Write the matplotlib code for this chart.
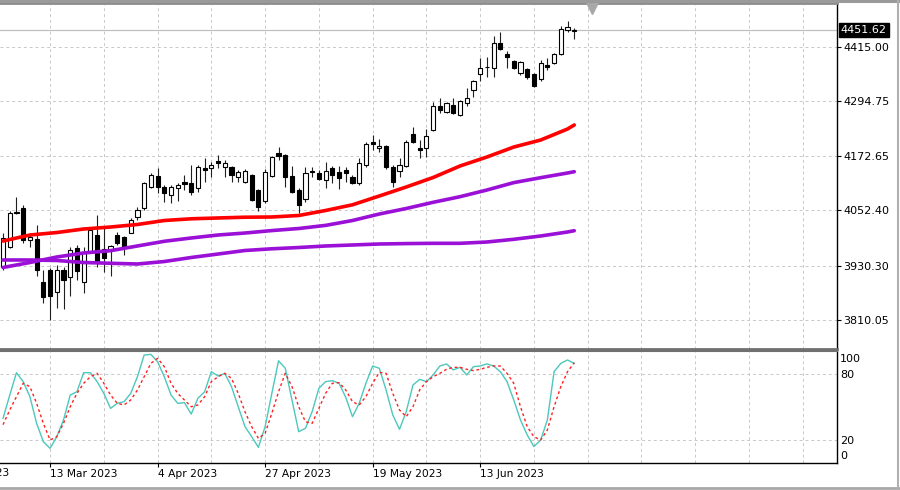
import matplotlib
matplotlib.use("Agg")
import matplotlib.pyplot as plt
import numpy as np
from matplotlib.transforms import blended_transform_factory
from matplotlib.lines import Line2D

# ---------------- data ----------------
opens = [3927.3, 3971.5, 4049.0, 4057.9, 3987.0, 3989.3, 3894.1, 3920.6, 3871.9, 3920.6,
         3905.1, 3969.3, 3894.1, 3960.5, 3998.1, 3967.1, 3964.9, 3998.1, 3993.7, 4002.5,
         4038.0, 4057.9, 4104.4, 4128.7, 4104.4, 4086.7, 4102.2, 4115.5, 4113.2, 4102.2,
         4146.5, 4146.5, 4162.0, 4148.7, 4148.7, 4126.5, 4115.5, 4131.0, 4097.7, 4073.4,
         4128.7, 4179.7, 4175.2, 4128.7, 4097.7, 4077.8, 4139.8, 4135.4, 4119.9, 4146.5,
         4137.6, 4142.0, 4126.5, 4113.2, 4153.1, 4204.0, 4190.7, 4195.2, 4148.7, 4139.8,
         4150.9, 4221.7, 4190.7, 4190.7, 4230.6, 4283.7, 4270.4, 4285.9, 4263.8, 4290.4,
         4319.1, 4354.6, 4371.2, 4367.8, 4423.2, 4398.8, 4383.4, 4356.8, 4365.6, 4354.6,
         4343.5, 4374.5, 4378.9, 4398.8, 4452.0, 4448.7]
highs = [4002.5, 4051.3, 4082.2, 4064.5, 4002.5, 4020.3, 3920.6, 3925.0, 3931.7, 3927.3,
         3971.5, 3976.0, 3971.5, 4015.8, 4042.4, 4015.8, 3975.5, 4004.8, 3995.0, 4035.8,
         4060.1, 4114.5, 4135.4, 4146.5, 4108.8, 4108.8, 4113.2, 4131.0, 4153.1, 4153.1,
         4168.6, 4159.7, 4175.2, 4164.2, 4150.9, 4142.0, 4144.2, 4132.5, 4099.0, 4144.2,
         4172.0, 4192.9, 4176.5, 4150.9, 4102.2, 4148.7, 4148.7, 4142.0, 4159.7, 4150.9,
         4150.9, 4148.7, 4131.0, 4168.6, 4204.0, 4219.5, 4210.7, 4197.4, 4153.1, 4168.6,
         4208.4, 4237.2, 4208.4, 4232.8, 4292.6, 4301.4, 4292.6, 4301.4, 4297.0, 4323.6,
         4341.3, 4390.0, 4392.2, 4438.7, 4447.6, 4405.5, 4385.6, 4383.4, 4367.8, 4356.8,
         4385.6, 4390.0, 4401.1, 4460.8, 4471.9, 4456.4]
lows = [3920.6, 3969.3, 4044.6, 3980.4, 3971.5, 3907.3, 3847.6, 3809.9, 3836.5, 3834.3,
        3863.1, 3898.5, 3869.7, 3958.3, 3927.3, 3916.2, 3907.3, 3976.0, 3953.8, 4001.5,
        4031.3, 4053.5, 4102.2, 4091.1, 4071.2, 4069.0, 4073.4, 4097.7, 4086.7, 4093.3,
        4115.5, 4126.5, 4146.5, 4126.5, 4115.5, 4115.5, 4113.2, 4073.4, 4051.3, 4069.0,
        4126.5, 4164.2, 4104.4, 4091.1, 4046.8, 4071.2, 4126.5, 4119.9, 4102.2, 4113.2,
        4100.0, 4115.5, 4111.0, 4108.8, 4148.7, 4186.3, 4181.9, 4144.2, 4104.4, 4126.5,
        4148.7, 4201.8, 4168.6, 4170.8, 4228.4, 4268.2, 4268.2, 4267.0, 4261.6, 4283.7,
        4303.6, 4339.1, 4347.9, 4347.9, 4407.7, 4367.8, 4365.6, 4352.3, 4343.5, 4325.8,
        4339.1, 4363.4, 4376.7, 4396.6, 4447.6, 4432.1]
closes = [3991.5, 4046.8, 4046.8, 3987.0, 3993.7, 3920.6, 3860.8, 3863.1, 3920.6, 3898.5,
          3964.9, 3918.4, 3958.3, 4009.2, 3938.3, 3947.2, 3973.8, 3980.4, 3971.5, 4031.3,
          4053.5, 4113.2, 4131.0, 4104.4, 4091.1, 4104.4, 4108.8, 4111.0, 4093.3, 4148.7,
          4142.0, 4153.1, 4157.5, 4157.5, 4131.0, 4137.6, 4139.8, 4075.6, 4060.1, 4137.6,
          4170.8, 4173.0, 4126.5, 4093.3, 4064.5, 4135.4, 4137.0, 4122.1, 4139.8, 4131.0,
          4124.3, 4135.4, 4113.2, 4157.5, 4199.6, 4199.6, 4195.2, 4148.7, 4115.5, 4153.1,
          4204.0, 4204.0, 4186.3, 4217.3, 4283.7, 4274.9, 4290.4, 4268.2, 4294.8, 4301.4,
          4339.1, 4367.8, 4369.0, 4423.2, 4409.9, 4392.2, 4367.8, 4381.1, 4347.9, 4328.0,
          4378.9, 4370.1, 4398.8, 4454.2, 4458.6, 4451.62]

# moving averages, read at sampled bars
ma_bars = [0, 4, 8, 12, 16, 20, 24, 28, 32, 36, 40, 44, 48, 52, 56, 60, 64, 68, 72, 76, 80, 84, 85]
ma_red = [3984.8, 3998.1, 4003.6, 4011.4, 4015.8, 4021.4, 4030.2, 4034.0, 4035.8, 4037.5,
          4038.0, 4041.3, 4052.4, 4065.0, 4084.5, 4104.4, 4125.4, 4150.9, 4170.8, 4192.9,
          4208.4, 4232.8, 4241.7]
ma_violet_fast = [3926.2, 3937.2, 3949.4, 3958.3, 3963.4, 3973.8, 3984.2, 3991.5, 3998.1, 4002.5,
                  4007.9, 4012.5, 4019.4, 4030.2, 4044.6, 4056.8, 4070.5, 4082.9, 4097.7, 4114.1,
                  4125.0, 4135.4, 4138.3]
ma_violet_slow = [3942.8, 3942.8, 3941.7, 3937.2, 3935.5, 3933.9, 3939.4, 3948.3, 3956.0, 3963.8,
                  3967.6, 3970.4, 3973.8, 3976.0, 3978.2, 3979.1, 3979.7, 3979.7, 3982.6, 3988.6,
                  3995.9, 4004.8, 4007.6]

# stochastic oscillator
stoch_main = [39.8, 61.0, 81.5, 73.3, 59.6, 35.2, 18.5, 12.4, 23.0, 38.3,
              61.1, 64.1, 81.5, 81.5, 73.3, 62.6, 48.9, 53.5, 55.0, 62.6,
              77.8, 97.6, 98.2, 91.5, 77.8, 61.1, 53.5, 54.1, 43.7, 58.1,
              64.1, 82.4, 78.4, 80.9, 68.7, 50.4, 32.2, 23.0, 13.3, 32.2,
              62.6, 92.4, 85.5, 56.5, 27.6, 30.7, 45.9, 67.2, 73.3, 74.2,
              71.8, 59.0, 41.3, 53.5, 71.8, 87.6, 85.5, 65.7, 42.8, 29.8,
              45.9, 70.2, 75.4, 73.3, 79.4, 87.6, 89.5, 84.0, 86.4, 79.4,
              87.0, 87.6, 89.5, 87.6, 82.4, 73.3, 56.5, 38.3, 24.6, 14.0,
              20.0, 38.3, 82.4, 90.0, 93.1, 90.0]
stoch_signal = [34.0, 47.4, 59.6, 71.8, 68.7, 53.5, 35.2, 20.0, 23.0, 35.2,
                50.4, 62.6, 71.8, 77.8, 80.9, 71.8, 61.1, 53.5, 52.0, 56.5,
                65.7, 77.8, 90.0, 94.6, 87.0, 71.8, 62.6, 56.5, 50.4, 52.0,
                59.6, 73.3, 77.8, 80.9, 76.3, 62.6, 45.9, 32.2, 21.5, 26.1,
                44.4, 64.1, 80.9, 68.7, 50.4, 36.7, 35.2, 48.9, 62.6, 71.8,
                72.4, 65.7, 55.0, 52.0, 59.6, 71.8, 81.8, 80.9, 62.6, 47.4,
                41.3, 50.4, 65.7, 73.3, 77.8, 80.9, 84.6, 86.4, 86.4, 84.6,
                83.4, 84.6, 86.4, 87.6, 87.6, 80.9, 71.8, 50.4, 32.2, 23.0,
                20.0, 29.2, 50.4, 68.7, 82.4, 90.6]

price_ticks = [3810.05, 3930.30, 4052.40, 4172.65, 4294.75, 4415.00]
last_price = 4451.62
date_tick_bars = [7, 23, 39, 55, 71]
date_labels = ["13 Mar 2023", "4 Apr 2023", "27 Apr 2023", "19 May 2023", "13 Jun 2023"]
cut_label_bar = -9
cut_label = "17 Feb 2023"
stoch_levels = [20, 80]
stoch_label_vals = ["100", "80", "20", "0"]

# ---------------- layout ----------------
W, H = 900, 490
fig = plt.figure(figsize=(9, 4.9), dpi=100)
fig.patch.set_facecolor("white")


def fy(py):
    return 1 - py / H


ax = fig.add_axes([0, fy(349), 837 / W, (349 - 3) / H])
ax2 = fig.add_axes([0, fy(463), 837 / W, (463 - 351) / H])

xlim = (-0.45, 124.1)
for a in (ax, ax2):
    a.set_xlim(*xlim)
    a.set_facecolor("white")

ax.set_ylim(3745.7, 4511.8)
ax2.set_ylim(-1.0, 101.3)

grid_kw = dict(color="#c8c8c8", lw=0.7, linestyle=(0, (3, 3)), zorder=0)
for gb in range(7, 124, 8):
    ax.axvline(gb, **grid_kw)
    ax2.axvline(gb, **grid_kw)
for p in price_ticks:
    ax.axhline(p, **grid_kw)
for lv in stoch_levels:
    ax2.axhline(lv, **grid_kw)

# last price line
ax.axhline(last_price, color="#c0c0c0", lw=0.9, zorder=1)

# ---------------- candles ----------------
n = len(opens)
x = np.arange(n)
o = np.array(opens); c = np.array(closes); hi = np.array(highs); lo = np.array(lows)
up = c >= o
ax.vlines(x, lo, hi, color="#202020", lw=0.8, zorder=3)
body_bottom = np.minimum(o, c)
body_h = np.maximum(np.abs(c - o), 0.6)
ax.bar(x[up], body_h[up], bottom=body_bottom[up], width=0.62,
       facecolor="white", edgecolor="black", linewidth=0.8, zorder=4)
ax.bar(x[~up], body_h[~up], bottom=body_bottom[~up], width=0.62,
       facecolor="black", edgecolor="black", linewidth=0.8, zorder=4)

# ---------------- moving averages ----------------
ax.plot(ma_bars, ma_violet_slow, color="#9a10d6", lw=2.6, solid_capstyle="round", zorder=5)
ax.plot(ma_bars, ma_violet_fast, color="#9a10d6", lw=2.6, solid_capstyle="round", zorder=5)
ax.plot(ma_bars, ma_red, color="#ff0000", lw=2.6, solid_capstyle="round", zorder=6)

# chart-shift marker
ax.plot([87.6], [0.985], marker="v", markersize=8, color="#a8a8a8",
        transform=blended_transform_factory(ax.transData, ax.transAxes), clip_on=False, zorder=7)

# ---------------- stochastic ----------------
ax2.plot(x, stoch_main, color="#4cc8bc", lw=1.0, zorder=3)
ax2.plot(x, stoch_signal, color="#ff2020", lw=1.0, linestyle=(0, (2, 2)), zorder=4)

# ---------------- axes styling ----------------
for a in (ax, ax2):
    a.spines["left"].set_visible(False)
    a.spines["right"].set_color("black")
    a.spines["right"].set_linewidth(1.0)
ax.spines["top"].set_color("#8c8c8c")
ax.spines["top"].set_linewidth(2.0)
ax.spines["bottom"].set_color("#707070")
ax.spines["bottom"].set_linewidth(2.0)
ax2.spines["top"].set_color("#707070")
ax2.spines["top"].set_linewidth(1.5)
ax2.spines["bottom"].set_color("black")
ax2.spines["bottom"].set_linewidth(1.0)

ax.yaxis.tick_right()
ax.set_yticks(price_ticks)
ax.set_yticklabels([f"{p:.2f}" for p in price_ticks])
ax.tick_params(axis="y", direction="out", length=3, width=0.8, pad=1.5, labelsize=8, colors="black")
ax.set_xticks([])

ax2.set_yticks([])
ax2.set_xticks(date_tick_bars)
ax2.set_xticklabels(date_labels, ha="left")
ax2.tick_params(axis="x", direction="out", length=3, width=0.8, pad=1.5, labelsize=7.7, colors="black")

# partially visible first date label (cut by the window edge, as in the reference)
ax2.text(cut_label_bar, fy(467.5), cut_label, fontsize=7.7, ha="left", va="top",
         transform=blended_transform_factory(ax2.transData, fig.transFigure), clip_on=False)

# last-price tag
ax.text(1.0045, last_price, f"{last_price:.2f}", color="white", fontsize=8, ha="left", va="center",
        transform=blended_transform_factory(ax.transAxes, ax.transData),
        bbox=dict(boxstyle="square,pad=0.18", fc="black", ec="black"), zorder=10, clip_on=False)

# stochastic scale labels
for lab, py in zip(stoch_label_vals, [359, 375.5, 441, 456]):
    fig.text(840 / W, fy(py), lab, fontsize=8, ha="left", va="center", color="black")

# outer window frame
fig.add_artist(Line2D([0, 1], [fy(1), fy(1)], color="#9a9a9a", lw=2.2, transform=fig.transFigure))
fig.add_artist(Line2D([0, 1], [fy(487.5), fy(487.5)], color="#a8a8a8", lw=2.0, transform=fig.transFigure))
fig.add_artist(Line2D([897.5 / W, 897.5 / W], [0, 1], color="#b0b0b0", lw=1.5, transform=fig.transFigure))

fig.savefig("out.png", dpi=100, facecolor="white")
